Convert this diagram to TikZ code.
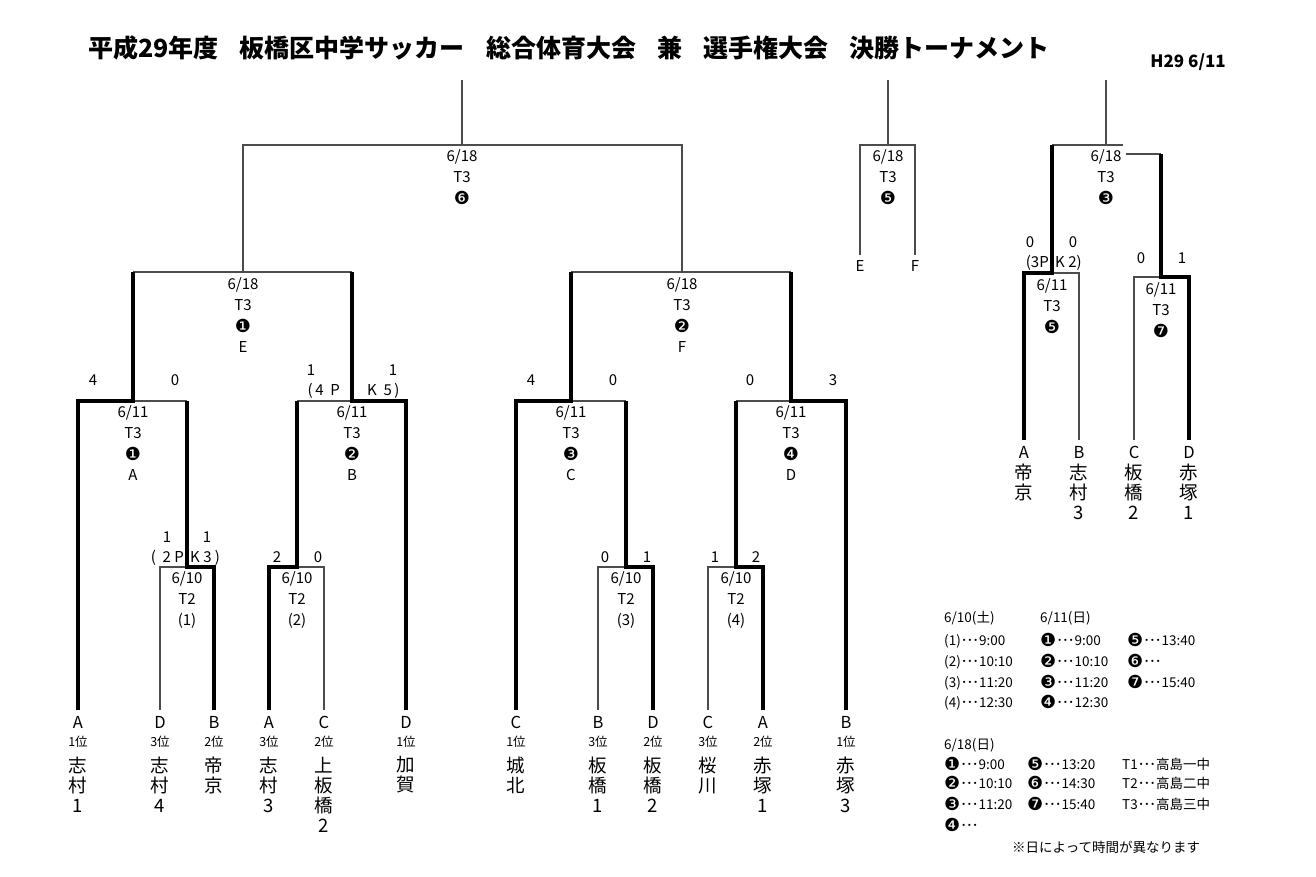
\documentclass[tikz,border=0pt]{standalone}
\usepackage{fontspec}
\setmainfont{Noto Sans CJK JP}
\newfontfamily\circfont{DejaVu Sans}
\usetikzlibrary{positioning}
\newcommand{\cn}[1]{\raisebox{-1.5pt}{\circfont\fontsize{18}{18}\selectfont#1}}
\newcommand{\el}{･\kern-1pt･\kern-1pt･}
\newcommand{\team}[5]{%
  \coordinate (#1) at (#2,710);
  \node[teamltr, below=6pt of #1] (#1l) {#3};
  \node[rank, below=7pt of #1l] (#1r) {#4};
  \node[teamname, below=9pt of #1r] (#1n) {#5};
}
\newcommand{\rteam}[4]{%
  \coordinate (#1) at (#2,440);
  \node[teamltr, below=6pt of #1] (#1l) {#3};
  \node[teamname, below=5pt of #1l] (#1n) {#4};
}
\tikzset{
  tline/.style={draw=black!70, line width=1.1pt},
  wline/.style={draw=black, line width=4pt},
  matchlbl/.style={align=center, inner sep=0pt, font=\fontsize{15}{21}\selectfont},
  score/.style={inner sep=0pt, font=\fontsize{15}{15}\selectfont},
  teamltr/.style={inner sep=0pt, font=\fontsize{16.5}{16}\selectfont},
  rank/.style={inner sep=0pt, font=\fontsize{12.5}{12}\selectfont},
  teamname/.style={align=center, inner sep=0pt, font=\fontsize{18.5}{20}\selectfont},
  legend/.style={anchor=base west, inner sep=0pt, font=\fontsize{13.5}{14}\selectfont},
}
\begin{document}
\begin{tikzpicture}[x=1pt, y=-1pt]
  \fill[white] (0,0) rectangle (1316,877);
  \node[anchor=west, inner sep=0pt, font=\fontsize{25}{25}\selectfont\bfseries] (title) at (88,48)
    {平成29年度\hspace{0.85em}板橋区中学サッカー\hspace{0.85em}総合体育大会\hspace{0.85em}兼\hspace{0.85em}選手権大会\hspace{0.85em}決勝トーナメント};
  \node[anchor=east, inner sep=0pt, font=\fontsize{17}{17}\selectfont\bfseries] (date) at (1226,62) {H29 6/11};

  % main bracket
  \coordinate (f6top) at (462,80);
  \coordinate (f6) at (462,145);
  \coordinate (e1) at (243,272);
  \coordinate (e2) at (682,272);
  \coordinate (a1) at (133,401);
  \coordinate (b2) at (352,401);
  \coordinate (c3) at (571,401);
  \coordinate (d4) at (791,401);
  \coordinate (r1) at (187,567);
  \coordinate (r2) at (297,567);
  \coordinate (r3) at (626,567);
  \coordinate (r4) at (736,567);

  \team{t1}{78}{A}{1位}{志\\村\\1}
  \team{t2}{160}{D}{3位}{志\\村\\4}
  \team{t3}{214}{B}{2位}{帝\\京}
  \team{t4}{269}{A}{3位}{志\\村\\3}
  \team{t5}{324}{C}{2位}{上\\板\\橋\\2}
  \team{t6}{406}{D}{1位}{加\\賀}
  \team{t7}{516}{C}{1位}{城\\北}
  \team{t8}{598}{B}{3位}{板\\橋\\1}
  \team{t9}{653}{D}{2位}{板\\橋\\2}
  \team{t10}{708}{C}{3位}{桜\\川}
  \team{t11}{763}{A}{2位}{赤\\塚\\1}
  \team{t12}{846}{B}{1位}{赤\\塚\\3}

  \draw[tline] (f6top) -- (f6);
  \draw[tline] (e1) |- (f6) -| (e2);
  \draw[tline] (e1 -| a1) -- (e1 -| b2);
  \draw[tline] (e2 -| c3) -- (e2 -| d4);
  \draw[tline] (a1) -- (a1 -| r1);
  \draw[tline] (b2 -| r2) -- (b2);
  \draw[tline] (c3) -- (c3 -| r3);
  \draw[tline] (d4 -| r4) -- (d4);
  \draw[tline] (r1) -| (t2);
  \draw[tline] (r2) -| (t5);
  \draw[tline] (r3) -| (t8);
  \draw[tline] (r4) -| (t10);

  \draw[wline] (e1 -| a1) -- (a1) -| (t1);
  \draw[wline] (a1 -| r1) -- (r1) -| (t3);
  \draw[wline] (e1 -| b2) -- (b2) -| (t6);
  \draw[wline] (b2 -| r2) -- (r2) -| (t4);
  \draw[wline] (e2 -| c3) -- (c3) -| (t7);
  \draw[wline] (c3 -| r3) -- (r3) -| (t9);
  \draw[wline] (e2 -| d4) -- (d4) -| (t12);
  \draw[wline] (d4 -| r4) -- (r4) -| (t11);

  \node[matchlbl, below=4pt of f6] (lf6) {6/18\\T3\\\cn{❻}};
  \node[matchlbl, below=5pt of e1] (le1) {6/18\\T3\\\cn{❶}\\E};
  \node[matchlbl, below=5pt of e2] (le2) {6/18\\T3\\\cn{❷}\\F};
  \node[matchlbl, below=4pt of a1] (la1) {6/11\\T3\\\cn{❶}\\A};
  \node[matchlbl, below=4pt of b2] (lb2) {6/11\\T3\\\cn{❷}\\B};
  \node[matchlbl, below=4pt of c3] (lc3) {6/11\\T3\\\cn{❸}\\C};
  \node[matchlbl, below=4pt of d4] (ld4) {6/11\\T3\\\cn{❹}\\D};
  \node[matchlbl, below=4pt of r1] (lr1) {6/10\\T2\\(1)};
  \node[matchlbl, below=4pt of r2] (lr2) {6/10\\T2\\(2)};
  \node[matchlbl, below=4pt of r3] (lr3) {6/10\\T2\\(3)};
  \node[matchlbl, below=4pt of r4] (lr4) {6/10\\T2\\(4)};

  % scores
  \node[score] (sa1l) at (93,380) {4};
  \node[score] (sa1r) at (175,380) {0};
  \node[score] (sb2l) at (311,370) {1};
  \node[score] (sb2r) at (393,370) {1};
  \node[score, anchor=east] (pb2l) at (340,391) {(\,4\ \ P};
  \node[score, anchor=west] (pb2r) at (367,391) {K\ \ 5\,)};
  \node[score] (sc3l) at (531,380) {4};
  \node[score] (sc3r) at (613,380) {0};
  \node[score] (sd4l) at (750,380) {0};
  \node[score] (sd4r) at (833,380) {3};
  \node[score] (sr1l) at (167,537) {1};
  \node[score] (sr1r) at (207,537) {1};
  \node[score, anchor=east] (pr1l) at (184,558) {(\ \ 2 P};
  \node[score, anchor=west] (pr1r) at (190,558) {K\ 3\ )};
  \node[score] (sr2l) at (277,557) {2};
  \node[score] (sr2r) at (318,557) {0};
  \node[score] (sr3l) at (605,557) {0};
  \node[score] (sr3r) at (647,557) {1};
  \node[score] (sr4l) at (715,557) {1};
  \node[score] (sr4r) at (756,557) {2};

  % match 5 (E-F)
  \coordinate (g5top) at (888,80);
  \coordinate (g5) at (888,145);
  \coordinate (ge) at (860,255);
  \coordinate (gf) at (915,255);
  \draw[tline] (g5top) -- (g5);
  \draw[tline] (ge) |- (g5) -| (gf);
  \node[matchlbl, below=4pt of g5] (lg5) {6/18\\T3\\\cn{❺}};
  \node[score, below=5pt of ge] (lge) {E};
  \node[score, below=5pt of gf] (lgf) {F};

  % right bracket
  \coordinate (h3top) at (1106,80);
  \coordinate (h3) at (1106,145);
  \coordinate (h3end) at (1123,145);
  \coordinate (h3r) at (1126,154);
  \coordinate (p5) at (1052,273);
  \coordinate (p7) at (1161,277);
  \rteam{u1}{1024}{A}{帝\\京}
  \rteam{u2}{1079}{B}{志\\村\\3}
  \rteam{u3}{1134}{C}{板\\橋\\2}
  \rteam{u4}{1189}{D}{赤\\塚\\1}
  \draw[tline] (h3top) -- (h3);
  \draw[tline] (h3 -| p5) -- (h3end);
  \draw[tline] (h3r) -- (h3r -| p7);
  \draw[tline] (p5) -| (u2);
  \draw[tline] (p7) -| (u3);
  \draw[wline] (h3 -| p5) -- (p5) -| (u1);
  \draw[wline] (h3r -| p7) -- (p7) -| (u4);
  \node[matchlbl, below=4pt of h3] (lh3) {6/18\\T3\\\cn{❸}};
  \node[matchlbl, below=5pt of p5] (lp5) {6/11\\T3\\\cn{❺}};
  \node[matchlbl, below=5pt of p7] (lp7) {6/11\\T3\\\cn{❼}};
  \node[score] (sp5l) at (1030,242) {0};
  \node[score] (sp5r) at (1073,242) {0};
  \node[score, anchor=east] (pp5l) at (1049,263) {(3P};
  \node[score, anchor=west] (pp5r) at (1055,263) {K 2)};
  \node[score] (sp7l) at (1141,258) {0};
  \node[score] (sp7r) at (1182,258) {1};

  % legend
  \foreach \txt/\py [count=\i] in {{6/10(土)}/622, {(1)\el{}9:00}/645, {(2)\el{}10:10}/666, {(3)\el{}11:20}/687, {(4)\el{}12:30}/707}
    \node[legend] (lga\i) at (944,\py) {\txt};
  \foreach \txt/\py [count=\i] in {{6/11(日)}/622, {\cn{❶}\el{}9:00}/645, {\cn{❷}\el{}10:10}/666, {\cn{❸}\el{}11:20}/687, {\cn{❹}\el{}12:30}/707}
    \node[legend] (lgb\i) at (1040,\py) {\txt};
  \foreach \txt/\py [count=\i] in {{\cn{❺}\el{}13:40}/645, {\cn{❻}\el{}}/666, {\cn{❼}\el{}15:40}/687}
    \node[legend] (lgc\i) at (1127,\py) {\txt};
  \foreach \txt/\py [count=\i] in {{6/18(日)}/749, {\cn{❶}\el{}9:00}/769, {\cn{❷}\el{}10:10}/788, {\cn{❸}\el{}11:20}/809, {\cn{❹}\el{}}/830}
    \node[legend] (lgd\i) at (944,\py) {\txt};
  \foreach \txt/\py [count=\i] in {{\cn{❺}\el{}13:20}/769, {\cn{❻}\el{}14:30}/788, {\cn{❼}\el{}15:40}/809}
    \node[legend] (lge\i) at (1027,\py) {\txt};
  \foreach \txt/\py [count=\i] in {{T1\el{}高島一中}/769, {T2\el{}高島二中}/788, {T3\el{}高島三中}/809}
    \node[legend] (lgf\i) at (1122,\py) {\txt};
  \node[legend] (note) at (1012,852) {※日によって時間が異なります};
\end{tikzpicture}
\end{document}
